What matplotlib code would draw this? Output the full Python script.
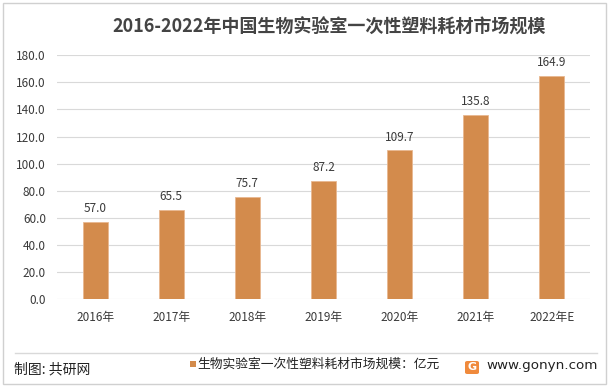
import matplotlib
matplotlib.use("Agg")
import matplotlib.pyplot as plt
from matplotlib.patches import Rectangle, FancyBboxPatch

plt.rcParams['font.family'] = ['Noto Sans CJK SC', 'DejaVu Sans']

categories = ["2016年", "2017年", "2018年", "2019年", "2020年", "2021年", "2022年E"]
values = [57.0, 65.5, 75.7, 87.2, 109.7, 135.8, 164.9]
yticks = [0, 20, 40, 60, 80, 100, 120, 140, 160, 180]
title = "2016-2022年中国生物实验室一次性塑料耗材市场规模"
legend_label = "生物实验室一次性塑料耗材市场规模：亿元"
source = "制图: 共研网"
site = "www.gonyn.com"

bar_color = "#D38B4C"
text_color = "#3A3A3A"

W, H = 610, 388
fig = plt.figure(figsize=(6.1, 3.88), dpi=100)
fig.patch.set_facecolor("white")

def fx(px):
    return px / W

def fy(py):
    return 1 - py / H

# outer border
fig.add_artist(Rectangle((fx(3), fy(384)), 603/W, 381/H, transform=fig.transFigure,
                         fill=False, edgecolor="#D0D0D0", linewidth=1))

ax = fig.add_axes([fx(57), fy(299), 533/W, (299-55.3)/H])
x = list(range(len(categories)))
ax.bar(x, values, width=0.33, color=bar_color, edgecolor="#E8B890", linewidth=0.6, zorder=3)
ax.set_xlim(-0.5, len(categories)-0.5)
ax.set_ylim(0, 180)
ax.set_yticks(yticks)
ax.set_yticklabels([f"{v:.1f}" for v in yticks], color=text_color, fontsize=8.5, fontweight="medium")
ax.set_xticks(x)
ax.set_xticklabels(categories, color=text_color, fontsize=8.5, fontweight="medium")
ax.tick_params(axis='both', length=0)
ax.tick_params(axis='y', pad=8)
ax.tick_params(axis='x', pad=9)
ax.grid(axis='y', color="#D9D9D9", linewidth=0.8, zorder=0)
for s in ax.spines.values():
    s.set_visible(False)
for xi, v in zip(x, values):
    ax.annotate(f"{v:.1f}", (xi, v), xytext=(0, 5), textcoords="offset points",
                ha="center", va="bottom", fontsize=8.5, color=text_color, fontweight="medium")

fig.text(fx(329), fy(27), title, ha="center", va="center", fontsize=13,
         fontweight="bold", color="#444444")

# separator line
fig.add_artist(plt.Line2D([fx(15), fx(597)], [fy(352.5), fy(352.5)], transform=fig.transFigure,
                          color="#D9D9D9", linewidth=1))

fig.text(fx(14), fy(369), source, ha="left", va="center", fontsize=10, color="#222222")
fig.add_artist(Rectangle((fx(190), fy(367)), 6/W, 6/H, transform=fig.transFigure,
                         facecolor=bar_color, edgecolor="none"))
fig.text(fx(197), fy(364), legend_label, ha="left", va="center", fontsize=9.2, color="#222222",
         fontweight="medium")

# logo
fig.add_artist(FancyBboxPatch((fx(465), fy(374)), 14/W, 13/H, transform=fig.transFigure,
                              boxstyle="round,pad=0,rounding_size=0.004",
                              facecolor="#F08A3C", edgecolor="none"))
fig.text(fx(472), fy(367.5), "G", ha="center", va="center", fontsize=8, color="white",
         fontweight="bold", family=["DejaVu Sans"])
fig.text(fx(598), fy(366), site, ha="right", va="center", fontsize=9.7, color="#222222",
         family=["DejaVu Sans"])

fig.savefig("out.png", dpi=100)
